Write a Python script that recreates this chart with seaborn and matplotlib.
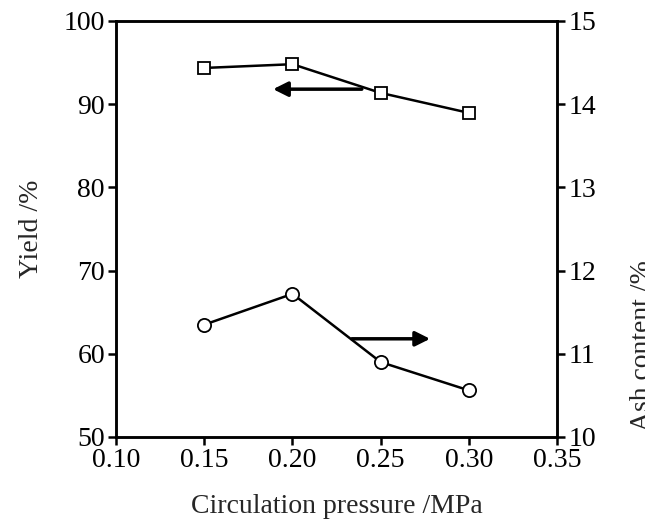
import matplotlib
matplotlib.use("Agg")
import matplotlib.pyplot as plt
import seaborn as sns
import pandas as pd

pressure = [0.15, 0.20, 0.25, 0.30]
yield_pct = [94.35, 94.8, 91.35, 88.95]
ash_pct = [11.35, 11.72, 10.9, 10.56]

x_ticks = [0.10, 0.15, 0.20, 0.25, 0.30, 0.35]
x_tick_labels = ["0.10", "0.15", "0.20", "0.25", "0.30", "0.35"]
yield_ticks = [50, 60, 70, 80, 90, 100]
ash_ticks = [10, 11, 12, 13, 14, 15]

# arrow annotations (data coords)
left_arrow_tail = (0.2393, 91.8)
left_arrow_head = (0.189, 91.8)
right_arrow_tail = (0.2336, 11.18)
right_arrow_head = (0.278, 11.18)

sns.set_theme(style="white")
plt.rcParams["font.family"] = ["Liberation Serif", "DejaVu Serif"]

df = pd.DataFrame({"pressure": pressure, "yield": yield_pct, "ash": ash_pct})

fig = plt.figure(figsize=(6.45, 5.30), dpi=100)
ax = fig.add_axes([0.180, 0.1755, 0.6837, 0.785])
ax2 = ax.twinx()

sns.lineplot(data=df, x="pressure", y="yield", ax=ax, color="black", lw=1.8,
             marker="s", markersize=8, markerfacecolor="white",
             markeredgecolor="black", markeredgewidth=1.3)
sns.lineplot(data=df, x="pressure", y="ash", ax=ax2, color="black", lw=1.8,
             marker="o", markersize=9.5, markerfacecolor="white",
             markeredgecolor="black", markeredgewidth=1.3)

ax.set_xlim(0.10, 0.35)
ax.set_ylim(50, 100)
ax2.set_ylim(10, 15)
ax.set_xticks(x_ticks)
ax.set_xticklabels(x_tick_labels)
ax.set_yticks(yield_ticks)
ax2.set_yticks(ash_ticks)

fs = 20
ax.set_xlabel("Circulation pressure /MPa", fontsize=fs, labelpad=15)
ax.set_ylabel("Yield /%", fontsize=fs, labelpad=14)
ax2.set_ylabel("Ash content /%", fontsize=fs)
ax2.yaxis.set_label_coords(1.165, 0.22)

for a in (ax, ax2):
    for s in a.spines.values():
        s.set_linewidth(1.8)
        s.set_color("black")
    a.tick_params(axis="both", direction="out", length=6, width=1.8,
                  labelsize=fs, colors="black", pad=2)
ax.tick_params(axis="y", left=True, right=False)
ax.tick_params(axis="x", bottom=True, top=False)
ax2.tick_params(axis="y", right=True, left=False)

ax.annotate("", xy=left_arrow_head, xytext=left_arrow_tail,
            arrowprops=dict(arrowstyle="-|>", lw=2.5, color="black",
                            mutation_scale=22, shrinkA=0, shrinkB=0))
ax2.annotate("", xy=right_arrow_head, xytext=right_arrow_tail,
             arrowprops=dict(arrowstyle="-|>", lw=2.5, color="black",
                             mutation_scale=22, shrinkA=0, shrinkB=0))

fig.savefig("out.png", dpi=100, facecolor="white")
